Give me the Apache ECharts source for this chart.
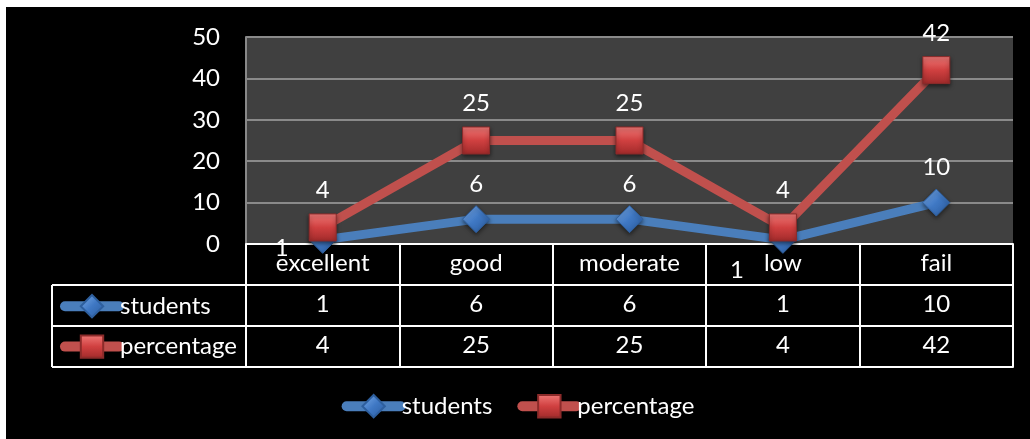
<!DOCTYPE html>
<html>
<head>
<meta charset="utf-8">
<script src="https://cdn.jsdelivr.net/npm/echarts@6/dist/echarts.min.js"></script>
<style>
  html, body { margin: 0; padding: 0; background: #fff; }
  #chart { position: absolute; left: 6px; top: 7px; width: 1024px; height: 432px; background: #000; }
</style>
</head>
<body>
<div id="chart"></div>
<script>
// 数据
const categories = ['excellent', 'good', 'moderate', 'low', 'fail'];
const students = [1, 6, 6, 1, 10];
const percentage = [4, 25, 25, 4, 42];
const yTicks = { min: 0, max: 50, interval: 10 };

const FONT = 'Lato';
const FS = 24;
const chart = echarts.init(document.getElementById('chart'));

// 标签微调（Excel 里 "1" 的标签挤在了左下方）
const studentLabelOffsets = { 0: [-41, 8], 3: [-46, 30] };

const blueFill = new echarts.graphic.LinearGradient(0, 0, 1, 1, [
    { offset: 0, color: '#7fb0ec' }, { offset: 0.5, color: '#3f78c4' }, { offset: 1, color: '#2a5a9c' }
]);
const redFill = new echarts.graphic.LinearGradient(0, 0, 0, 1, [
    { offset: 0, color: '#f07a78' }, { offset: 0.5, color: '#d04040' }, { offset: 1, color: '#a02a2a' }
]);

function studentData() {
    return students.map((v, i) => {
        const off = studentLabelOffsets[i];
        if (!off) return v;
        return { value: v, label: { position: 'inside', offset: off } };
    });
}

const tableAxis = (offset, data, showTick) => ({
    type: 'category',
    position: 'bottom',
    offset: offset,
    data: data,
    boundaryGap: true,
    axisLine: { show: true, lineStyle: { color: '#fff', width: 2 } },
    axisTick: { show: showTick, length: 123, lineStyle: { color: '#fff', width: 2 } },
    axisLabel: { show: data.length > 0, color: '#fff', fontSize: FS, fontFamily: FONT, margin: 7 },
    splitLine: { show: false }
});

const legendBase = {
    data: ['students', 'percentage'],
    itemWidth: 54, itemHeight: 28,
    lineStyle: { width: 10, cap: 'round' },
    textStyle: { color: '#fff', fontSize: FS, fontFamily: FONT, padding: [0, 0, 0, -4] }
};

const option = {
    backgroundColor: '#000',
    textStyle: { fontFamily: FONT },
    grid: {
        left: 240, right: 17, top: 30, bottom: 195,
        show: true, backgroundColor: '#404040', borderWidth: 0
    },
    legend: [
        Object.assign({}, legendBase, { left: 'center', top: 382, itemGap: 25 }),
        Object.assign({}, legendBase, { orient: 'vertical', left: 49, top: 282, itemGap: 16, selectedMode: false })
    ],
    xAxis: [
        tableAxis(0, categories, true),
        tableAxis(41, students.map(String), false),
        tableAxis(82, percentage.map(String), false),
        tableAxis(123, [], false)
    ],
    yAxis: {
        type: 'value',
        min: yTicks.min, max: yTicks.max, interval: yTicks.interval,
        axisLine: { show: true, lineStyle: { color: '#888', width: 2 } },
        axisTick: { show: false },
        axisLabel: { color: '#fff', fontSize: FS, fontFamily: FONT, margin: 26 },
        splitLine: { lineStyle: { color: '#8a8a8a', width: 2 } }
    },
    graphic: [
        // 表格左侧表头格子
        { type: 'line', shape: { x1: 46, y1: 278, x2: 240, y2: 278 }, style: { stroke: '#fff', lineWidth: 2 } },
        { type: 'line', shape: { x1: 46, y1: 319, x2: 240, y2: 319 }, style: { stroke: '#fff', lineWidth: 2 } },
        { type: 'line', shape: { x1: 46, y1: 360, x2: 240, y2: 360 }, style: { stroke: '#fff', lineWidth: 2 } },
        { type: 'line', shape: { x1: 46, y1: 278, x2: 46, y2: 360 }, style: { stroke: '#fff', lineWidth: 2 } }
    ],
    series: [{
        name: 'students',
        type: 'line',
        data: studentData(),
        symbol: 'diamond',
        symbolSize: 27,
        lineStyle: { color: '#4a7ebb', width: 9 },
        itemStyle: { color: blueFill, borderColor: '#2e5f9e', borderWidth: 1, shadowBlur: 4, shadowColor: 'rgba(0,0,0,0.5)', shadowOffsetY: 2 },
        label: { show: true, position: 'top', distance: 9, color: '#fff', fontSize: FS, fontFamily: FONT },
        z: 3
    }, {
        name: 'percentage',
        type: 'line',
        data: percentage,
        symbol: 'rect',
        symbolSize: 27,
        lineStyle: { color: '#c0504d', width: 9 },
        itemStyle: { color: redFill, borderColor: '#8c2b2a', borderWidth: 1, shadowBlur: 4, shadowColor: 'rgba(0,0,0,0.5)', shadowOffsetY: 2 },
        label: { show: true, position: 'top', distance: 11, color: '#fff', fontSize: FS, fontFamily: FONT },
        z: 4
    }]
};

chart.setOption(option);
</script>
</body>
</html>
